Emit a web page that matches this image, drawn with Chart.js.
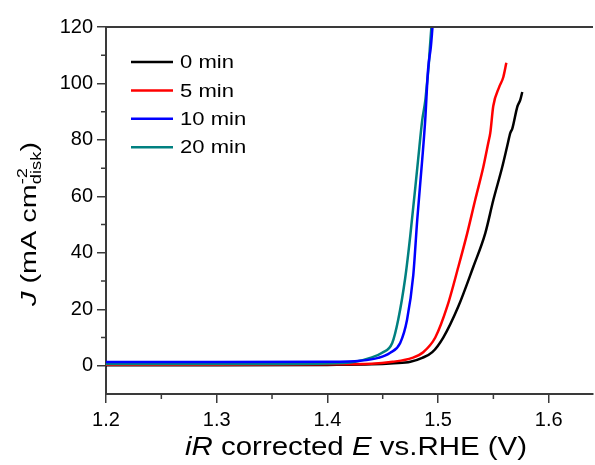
<!DOCTYPE html>
<html>
<head>
<meta charset="utf-8">
<script src="https://cdn.jsdelivr.net/npm/chart.js@4"></script>
<style>
html, body { margin: 0; padding: 0; background: #fff; }
#wrap { width: 595px; height: 465px; }
</style>
</head>
<body>
<div id="wrap"><canvas id="myChart" width="595" height="465"></canvas></div>
<script>
// serie: potenziale E (V) e densita' di corrente J
const labels = ['0 min', '5 min', '10 min', '20 min'];
const colors = ['#000000', '#ff0000', '#0000ff', '#008080'];

const e0 = [1.20, 1.30, 1.40, 1.44, 1.46, 1.475, 1.4857, 1.4948, 1.5047, 1.5183, 1.5318, 1.5427, 1.55, 1.558, 1.5626, 1.5653, 1.5671, 1.5716, 1.5743, 1.5761];
const j0 = [0.2, 0.2, 0.3, 0.5, 0.9, 1.4, 2.8, 4.8, 10, 21, 35, 47, 58.8, 70.4, 78, 82.5, 84, 91.7, 94.2, 97];

const e5 = [1.20, 1.30, 1.40, 1.44, 1.459, 1.4767, 1.4866, 1.4975, 1.5083, 1.5183, 1.5264, 1.5336, 1.5409, 1.5454, 1.5472, 1.5499, 1.5553, 1.559, 1.5617];
const j5 = [0.4, 0.4, 0.5, 0.7, 1.4, 2.8, 4.8, 10, 21, 35, 47, 58.8, 70.4, 79, 82.5, 92, 98.8, 102.3, 107.3];

const e10 = [1.20, 1.30, 1.40, 1.43, 1.446, 1.4568, 1.4658, 1.472, 1.4776, 1.4812, 1.4857, 1.4884, 1.491, 1.4935, 1.495];
const j10 = [1.3, 1.3, 1.4, 1.8, 2.8, 4.6, 8.1, 16.3, 32, 51.7, 73, 87, 105, 113, 120];

const e20 = [1.20, 1.30, 1.40, 1.425, 1.4387, 1.4495, 1.4586, 1.464, 1.4703, 1.4749, 1.482, 1.4857, 1.4885, 1.4897, 1.4915, 1.4925, 1.494];
const j20 = [0.6, 0.6, 0.8, 1.4, 2.8, 4.6, 8.1, 16.3, 31, 46, 73, 87, 94, 98.8, 106, 112, 120];

// tick degli assi
const xTicks = [1.2, 1.3, 1.4, 1.5, 1.6];
const xMinorTicks = [1.25, 1.35, 1.45, 1.55];
const yTicks = [0, 20, 40, 60, 80, 100, 120];
const yMinorTicks = [10, 30, 50, 70, 90, 110];

const FONT = '"Liberation Sans", Arial, sans-serif';

function toPoints(xs, ys) {
    return xs.map((x, i) => ({ x: x, y: ys[i] }));
}

// testo con corsivo, apice e pedice
function layoutRich(ctx, parts, size) {
    let x = 0;
    const runs = [];
    for (const p of parts) {
        if (p.sup !== undefined) {
            const f = Math.round(size * 0.62) + 'px ' + FONT;
            ctx.font = f;
            const w1 = ctx.measureText(p.sup).width;
            const w2 = ctx.measureText(p.sub).width;
            runs.push({ t: p.sup, f: f, x: x, dy: -size * 0.42 });
            runs.push({ t: p.sub, f: f, x: x, dy: size * 0.24 });
            x += Math.max(w1, w2);
        } else {
            const f = (p.it ? 'italic ' : '') + size + 'px ' + FONT;
            ctx.font = f;
            runs.push({ t: p.t, f: f, x: x, dy: 0 });
            x += ctx.measureText(p.t).width;
        }
    }
    return { runs: runs, width: x };
}

function drawRich(ctx, parts, size, cx, cy, angle, targetLen) {
    const lay = layoutRich(ctx, parts, size);
    ctx.save();
    ctx.translate(cx, cy);
    ctx.rotate(angle);
    ctx.scale(targetLen / lay.width, 1);
    ctx.translate(-lay.width / 2, 0);
    ctx.fillStyle = '#000';
    ctx.textBaseline = 'alphabetic';
    ctx.textAlign = 'left';
    for (const r of lay.runs) {
        ctx.font = r.f;
        ctx.fillText(r.t, r.x, r.dy);
    }
    ctx.restore();
}

const decorPlugin = {
    id: 'decor',
    afterDraw(chart) {
        const ctx = chart.ctx;
        const a = chart.chartArea;
        const xs = chart.scales.x, ys = chart.scales.y;

        ctx.save();
        ctx.strokeStyle = '#3a3a3a';
        // bordo superiore
        ctx.lineWidth = 2;
        ctx.beginPath();
        ctx.moveTo(a.left - 1, a.top);
        ctx.lineTo(a.right, a.top);
        ctx.stroke();
        // tick minori
        ctx.lineWidth = 1.5;
        ctx.beginPath();
        yMinorTicks.forEach(v => {
            const y = ys.getPixelForValue(v);
            ctx.moveTo(a.left - 5, y);
            ctx.lineTo(a.left, y);
        });
        xMinorTicks.forEach(v => {
            const x = xs.getPixelForValue(v);
            ctx.moveTo(x, a.bottom);
            ctx.lineTo(x, a.bottom + 5);
        });
        ctx.stroke();
        ctx.restore();

        // legenda
        ctx.save();
        labels.forEach((lab, i) => {
            const y = 62 + i * 28.4;
            ctx.strokeStyle = colors[i];
            ctx.lineWidth = 2.5;
            ctx.beginPath();
            ctx.moveTo(131, y);
            ctx.lineTo(173, y);
            ctx.stroke();
            ctx.save();
            ctx.translate(180, y + 1);
            ctx.scale(1.16, 1);
            ctx.font = '19px ' + FONT;
            ctx.fillStyle = '#000';
            ctx.textBaseline = 'middle';
            ctx.fillText(lab, 0, 0);
            ctx.restore();
        });
        ctx.restore();

        // titoli degli assi
        drawRich(ctx, [
            { t: 'iR', it: true }, { t: ' corrected ' }, { t: 'E', it: true }, { t: ' vs.RHE (V)' }
        ], 26, 356, 455, 0, 342);
        drawRich(ctx, [
            { t: 'J', it: true }, { t: ' (mA cm' }, { sup: '-2', sub: 'disk' }, { t: ')' }
        ], 22, 36, 224, -Math.PI / 2, 164);
    }
};

const datasets = [
    { label: labels[0], data: toPoints(e0, j0), borderColor: colors[0], order: 4 },
    { label: labels[1], data: toPoints(e5, j5), borderColor: colors[1], order: 3 },
    { label: labels[2], data: toPoints(e10, j10), borderColor: colors[2], order: 1 },
    { label: labels[3], data: toPoints(e20, j20), borderColor: colors[3], order: 2 }
].map(d => Object.assign(d, {
    borderWidth: 2.5,
    pointRadius: 0,
    fill: false,
    cubicInterpolationMode: 'monotone'
}));

const ctx = document.getElementById('myChart').getContext('2d');
const chart = new Chart(ctx, {
    type: 'line',
    data: { datasets: datasets },
    options: {
        responsive: false,
        animation: false,
        layout: { padding: { top: 27, right: 2, left: 0, bottom: 0 } },
        plugins: {
            legend: { display: false },
            tooltip: { enabled: false },
            title: { display: false }
        },
        scales: {
            x: {
                type: 'linear',
                min: 1.2,
                max: 1.64,
                afterBuildTicks(scale) { scale.ticks = xTicks.map(v => ({ value: v })); },
                afterFit(scale) { scale.height = 71; },
                ticks: {
                    color: '#000',
                    font: { family: FONT, size: 20 },
                    padding: 5,
                    maxRotation: 0,
                    callback: v => v.toFixed(1)
                },
                grid: { drawOnChartArea: false, drawTicks: true, tickLength: 9, color: '#3a3a3a', lineWidth: 1.5 },
                border: { display: true, color: '#3a3a3a', width: 2 }
            },
            y: {
                min: -10,
                max: 120,
                afterBuildTicks(scale) { scale.ticks = yTicks.map(v => ({ value: v })); },
                afterFit(scale) { scale.width = 106; },
                ticks: {
                    color: '#000',
                    font: { family: FONT, size: 20 },
                    padding: 4
                },
                grid: { drawOnChartArea: false, drawTicks: true, tickLength: 9, color: '#3a3a3a', lineWidth: 1.5 },
                border: { display: true, color: '#3a3a3a', width: 2 }
            }
        }
    },
    plugins: [decorPlugin]
});
</script>
</body>
</html>
